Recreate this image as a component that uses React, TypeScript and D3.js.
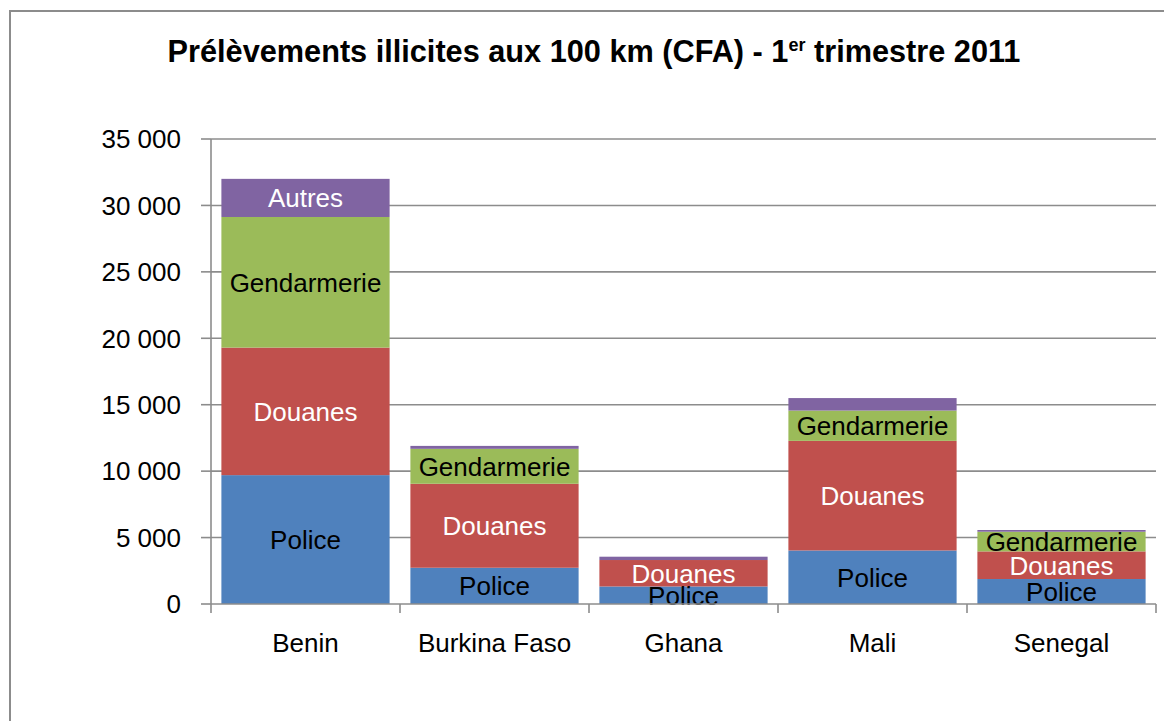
import React, { useEffect, useRef } from 'react';
import * as d3 from 'd3';

const countries = ['Benin', 'Burkina Faso', 'Ghana', 'Mali', 'Senegal'];
const seriesNames = ['Police', 'Douanes', 'Gendarmerie', 'Autres'];
const police = [9700, 2730, 1320, 4030, 1880];
const douanes = [9600, 6320, 1990, 8250, 2080];
const gendarmerie = [9830, 2630, 0, 2280, 1480];
const autres = [2870, 220, 250, 940, 130];
const colors = ['#4F81BD', '#C0504D', '#9BBB59', '#8064A2'];
const labelColors = ['#000', '#fff', '#000', '#fff'];
const yTicks = [0, 5000, 10000, 15000, 20000, 25000, 30000, 35000];

const W = 1164;
const H = 721;
const FONT = '"Liberation Sans", Arial, sans-serif';

export default function App() {
  const ref = useRef<SVGSVGElement>(null);

  useEffect(() => {
    document.body.style.margin = '0';
    const svg = d3.select(ref.current);
    svg.selectAll('*').remove();

    const rows = countries.map((c, i) => ({
      country: c,
      Police: police[i],
      Douanes: douanes[i],
      Gendarmerie: gendarmerie[i],
      Autres: autres[i],
    }));

    const x = d3.scaleBand().domain(countries).range([211, 1156])
      .paddingInner(0.11).paddingOuter(0.055);
    const y = d3.scaleLinear().domain([0, 35000]).range([604, 139]);
    const stacked = d3.stack<any>().keys(seriesNames)(rows);

    // chart frame
    svg.append('rect')
      .attr('x', 10).attr('y', 11).attr('width', 1180).attr('height', 730)
      .attr('fill', 'none').attr('stroke', '#8c8c8c').attr('stroke-width', 2);

    // title
    const title = svg.append('text')
      .attr('x', 594).attr('y', 62).attr('text-anchor', 'middle')
      .attr('font-family', FONT).attr('font-weight', 'bold').attr('font-size', 30.7)
      .attr('fill', '#000');
    title.append('tspan').text('Prélèvements illicites aux 100 km (CFA) - 1');
    title.append('tspan').attr('font-size', 18).attr('dy', -11).text('er');
    title.append('tspan').attr('dy', 11).text(' trimestre 2011');

    // gridlines
    svg.append('g').selectAll('line').data(yTicks.slice(1)).join('line')
      .attr('x1', 211).attr('x2', 1156)
      .attr('y1', d => y(d)).attr('y2', d => y(d))
      .attr('stroke', '#8c8c8c').attr('stroke-width', 1.6);

    // y axis
    const ya = svg.append('g');
    ya.append('line').attr('x1', 211).attr('x2', 211).attr('y1', y(35000)).attr('y2', y(0))
      .attr('stroke', '#8c8c8c').attr('stroke-width', 1.6);
    ya.selectAll('line.t').data(yTicks).join('line').attr('class', 't')
      .attr('x1', 201).attr('x2', 211)
      .attr('y1', d => y(d)).attr('y2', d => y(d))
      .attr('stroke', '#8c8c8c').attr('stroke-width', 1.6);
    ya.selectAll('text').data(yTicks).join('text')
      .attr('x', 181).attr('y', d => y(d) + 9.3)
      .attr('text-anchor', 'end')
      .attr('font-family', FONT).attr('font-size', 26).attr('fill', '#000')
      .text(d => d3.format(',')(d).replace(/,/g, ' '));

    // bars
    const layer = svg.append('g').selectAll('g').data(stacked).join('g')
      .attr('fill', (_, i) => colors[i]);
    layer.selectAll('rect').data(d => d).join('rect')
      .attr('x', d => x(d.data.country)!)
      .attr('width', x.bandwidth())
      .attr('y', d => y(d[1]))
      .attr('height', d => y(d[0]) - y(d[1]));

    // bar labels
    stacked.forEach((s, si) => {
      svg.append('g').selectAll('text')
        .data(s.filter(d => y(d[0]) - y(d[1]) > 15))
        .join('text')
        .attr('x', d => x(d.data.country)! + x.bandwidth() / 2)
        .attr('y', d => (y(d[0]) + y(d[1])) / 2 + 9.3)
        .attr('text-anchor', 'middle')
        .attr('font-family', FONT).attr('font-size', 26)
        .attr('fill', labelColors[si])
        .text(s.key);
    });

    // x axis
    const xa = svg.append('g');
    xa.append('line').attr('x1', 211).attr('x2', 1156).attr('y1', y(0)).attr('y2', y(0))
      .attr('stroke', '#8c8c8c').attr('stroke-width', 1.6);
    const bounds = countries.map(c => x(c)! - (x.step() - x.bandwidth()) / 2).concat([1156]);
    xa.selectAll('line.t').data(bounds).join('line').attr('class', 't')
      .attr('x1', d => d).attr('x2', d => d)
      .attr('y1', y(0)).attr('y2', y(0) + 9)
      .attr('stroke', '#8c8c8c').attr('stroke-width', 1.6);
    xa.selectAll('text').data(countries).join('text')
      .attr('x', d => x(d)! + x.bandwidth() / 2)
      .attr('y', 652)
      .attr('text-anchor', 'middle')
      .attr('font-family', FONT).attr('font-size', 26).attr('fill', '#000')
      .text(d => d);
  }, []);

  return <svg ref={ref} width={W} height={H} style={{ display: 'block', background: '#fff' }} />;
}
